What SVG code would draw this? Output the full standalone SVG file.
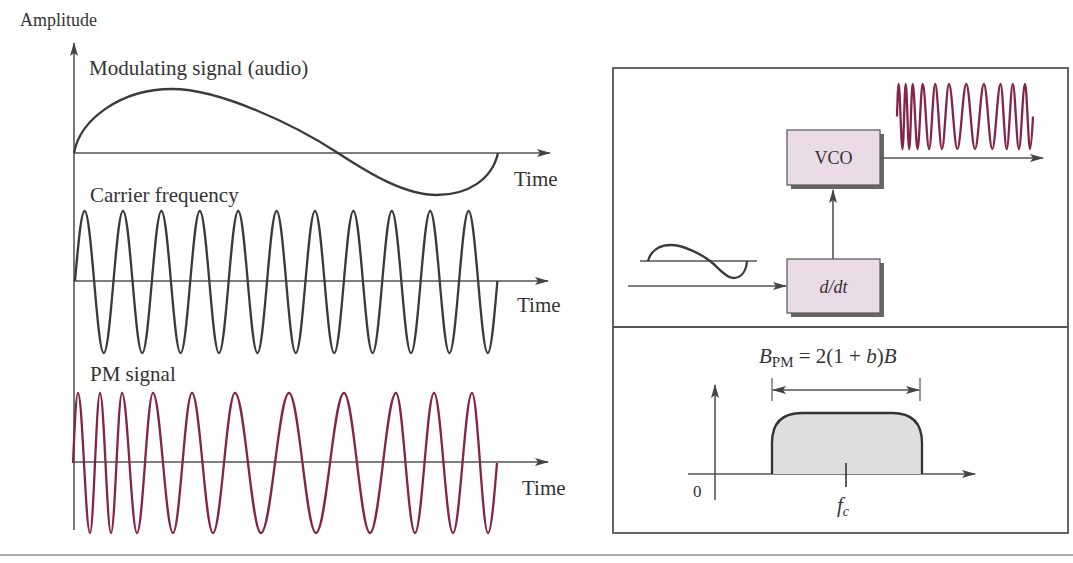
<svg xmlns="http://www.w3.org/2000/svg" width="1073" height="563" viewBox="0 0 1073 563">
<defs>
<style>
.t{font-family:"Liberation Serif","Times New Roman",serif;fill:#333;}
.ax{stroke:#555;stroke-width:1.6;fill:none;}
.wave{stroke:#3a3a3a;stroke-width:2.3;fill:none;stroke-linejoin:round;}
.pm{stroke:#842448;stroke-width:2.3;fill:none;stroke-linejoin:round;}
.box{fill:#eadbe6;stroke:#555;stroke-width:1.2;}
.shadow{fill:#666;}
.frame{fill:none;stroke:#555;stroke-width:1.8;}
</style>
<marker id="ah" viewBox="0 0 14 8" refX="13" refY="4" markerWidth="14" markerHeight="8" markerUnits="userSpaceOnUse" orient="auto-start-reverse"><path d="M0,0 L14,4 L0,8 L3,4 z" fill="#444"/></marker>
</defs>
<rect width="1073" height="563" fill="#fff"/>

<g id="time-plots">
<text class="t" x="20" y="26" font-size="18">Amplitude</text>
<line class="ax" x1="74" y1="530" x2="74" y2="43" marker-end="url(#ah)"/>
<line class="ax" x1="74" y1="153" x2="550" y2="153" marker-end="url(#ah)"/>
<line class="ax" x1="74" y1="281" x2="548" y2="281" marker-end="url(#ah)"/>
<line class="ax" x1="74" y1="462" x2="548" y2="462" marker-end="url(#ah)"/>
<text class="t" x="89" y="75" font-size="21">Modulating signal (audio)</text>
<text class="t" x="90" y="202" font-size="21">Carrier frequency</text>
<text class="t" x="90" y="381" font-size="21">PM signal</text>
<text class="t" x="514" y="186" font-size="21">Time</text>
<text class="t" x="517" y="312" font-size="21">Time</text>
<text class="t" x="522" y="495" font-size="21">Time</text>
<path class="wave" d="M74 153 C80 120, 120 89, 172 89 C220 89, 295 125, 338 153 C370 174, 405 195, 437 195 C467 195, 492 180, 498 153"/>
<path class="wave" d="M75 281 C78.1 245.2, 81.1 211, 84.6 211 C91.6 211, 96.8 353, 103.8 353 S116 211, 123 211 S135.2 353, 142.2 353 S154.4 211, 161.4 211 S173.6 353, 180.6 353 S192.8 211, 199.8 211 S212 353, 219 353 S231.2 211, 238.2 211 S250.4 353, 257.4 353 S269.6 211, 276.6 211 S288.8 353, 295.8 353 S308 211, 315 211 S327.2 353, 334.2 353 S346.4 211, 353.4 211 S365.6 353, 372.6 353 S384.8 211, 391.8 211 S404 353, 411 353 S423.2 211, 430.2 211 S442.4 353, 449.4 353 S461.6 211, 468.6 211 S480.8 353, 487.8 353 C491.3 353, 494.3 316.9, 497.4 281"/>
<path class="pm" d="M73 463 C74.6 427.2, 76.2 393, 78 393 C82.4 393, 85.6 533, 90 533 C93.6 533, 96.4 393, 100 393 C104 393, 107 533, 111 533 C115 533, 118 393, 122 393 C127.5 393, 131.5 533, 137 533 C142.8 533, 147.2 393, 153 393 C160.3 393, 165.7 533, 173 533 C179.9 533, 185.1 393, 192 393 C199.6 393, 205.4 533, 213 533 C221 533, 227 393, 235 393 C244.4 393, 251.6 533, 261 533 C271.2 533, 278.8 393, 289 393 C298.8 393, 306.2 533, 316 533 C326.2 533, 333.8 393, 344 393 C353.4 393, 360.6 533, 370 533 C379.4 533, 386.6 393, 396 393 C402.9 393, 408.1 533, 415 533 C421.9 533, 427.1 393, 434 393 C440.9 393, 446.1 533, 453 533 C459.9 533, 465.1 393, 472 393 C477.8 393, 482.2 533, 488 533 C491.2 533, 494.1 498.9, 497 463"/>
</g>

<g id="panel">
<rect class="frame" x="613" y="68" width="455" height="465"/>
<line class="frame" x1="613" y1="327" x2="1068" y2="327"/>
</g>

<g id="input-signal">
<line stroke="#555" stroke-width="1.4" x1="640" y1="261" x2="757" y2="261"/>
<path class="wave" stroke-width="1.8" d="M648 261 C651 250, 660 245, 671 245 C683 245, 701 254, 710 261 C718 267, 726 278, 733 278 C740 278, 746 273, 747 261"/>
</g>

<g id="vco">
<rect class="shadow" x="791" y="134" width="93" height="55"/>
<rect class="box" x="787" y="130" width="93" height="55"/>
<text class="t" x="833.5" y="164" font-size="18" text-anchor="middle">VCO</text>
</g>

<g id="ddt">
<rect class="shadow" x="791" y="263" width="93" height="54"/>
<rect class="box" x="787" y="259" width="93" height="54"/>
<text class="t" x="833.5" y="293" font-size="18" font-style="italic" text-anchor="middle">d/dt</text>
</g>

<g id="output-signal">
<path class="pm" stroke-width="1.9" d="M897 116.5 C897.5 99.9, 898 84, 898.6 84 C900 84, 901.1 149, 902.5 149 C903.7 149, 904.5 84, 905.7 84 C907 84, 907.9 149, 909.2 149 C910.5 149, 911.4 84, 912.7 84 C914.4 84, 915.8 149, 917.5 149 C919.4 149, 920.8 84, 922.7 84 C925 84, 926.8 149, 929.1 149 C931.3 149, 933 84, 935.2 84 C937.6 84, 939.5 149, 941.9 149 C944.5 149, 946.4 84, 949 84 C952 84, 954.3 149, 957.3 149 C960.6 149, 963 84, 966.3 84 C969.5 84, 971.8 149, 975 149 C978.2 149, 980.7 84, 983.9 84 C987 84, 989.2 149, 992.3 149 C995.3 149, 997.6 84, 1000.6 84 C1002.8 84, 1004.5 149, 1006.7 149 C1008.9 149, 1010.6 84, 1012.8 84 C1015 84, 1016.7 149, 1018.9 149 C1021.1 149, 1022.8 84, 1025 84 C1026.9 84, 1028.2 149, 1030.1 149 C1031.1 149, 1032.1 133.1, 1033 116.5"/>
</g>

<g id="connectors">
<line class="ax" x1="628" y1="286" x2="786" y2="286" marker-end="url(#ah)"/>
<line class="ax" x1="833" y1="259" x2="833" y2="190" marker-end="url(#ah)"/>
<line class="ax" x1="880" y1="158" x2="1043" y2="158" marker-end="url(#ah)"/>
</g>

<g id="spectrum">
<line class="ax" x1="715" y1="500" x2="715" y2="385" marker-end="url(#ah)"/>
<line class="ax" x1="688" y1="474" x2="975" y2="474" marker-end="url(#ah)"/>
<path d="M772 474 L772 443 Q772 413 802 413 L892 413 Q922 413 922 443 L922 474" fill="#dedede" stroke="#333" stroke-width="2.3"/>
<line stroke="#333" stroke-width="1.6" x1="846" y1="463" x2="846" y2="487"/>
<line stroke="#555" stroke-width="1.2" x1="772" y1="378" x2="772" y2="401"/>
<line stroke="#555" stroke-width="1.2" x1="920" y1="378" x2="920" y2="401"/>
<line class="ax" stroke-width="1.3" x1="773" y1="390" x2="919" y2="390" marker-start="url(#ah)" marker-end="url(#ah)"/>
<text class="t" x="693" y="497" font-size="17">0</text>
<text class="t" x="837" y="512" font-size="21" font-style="italic">f<tspan font-size="14" dy="4">c</tspan></text>
<text class="t" x="759" y="363" font-size="21"><tspan font-style="italic">B</tspan><tspan font-size="15" dy="4">PM</tspan><tspan dy="-4"> = 2(1 + </tspan><tspan font-style="italic">b</tspan>)<tspan font-style="italic">B</tspan></text>
</g>

<line x1="0" y1="555" x2="1073" y2="555" stroke="#aaa" stroke-width="2"/>
</svg>
